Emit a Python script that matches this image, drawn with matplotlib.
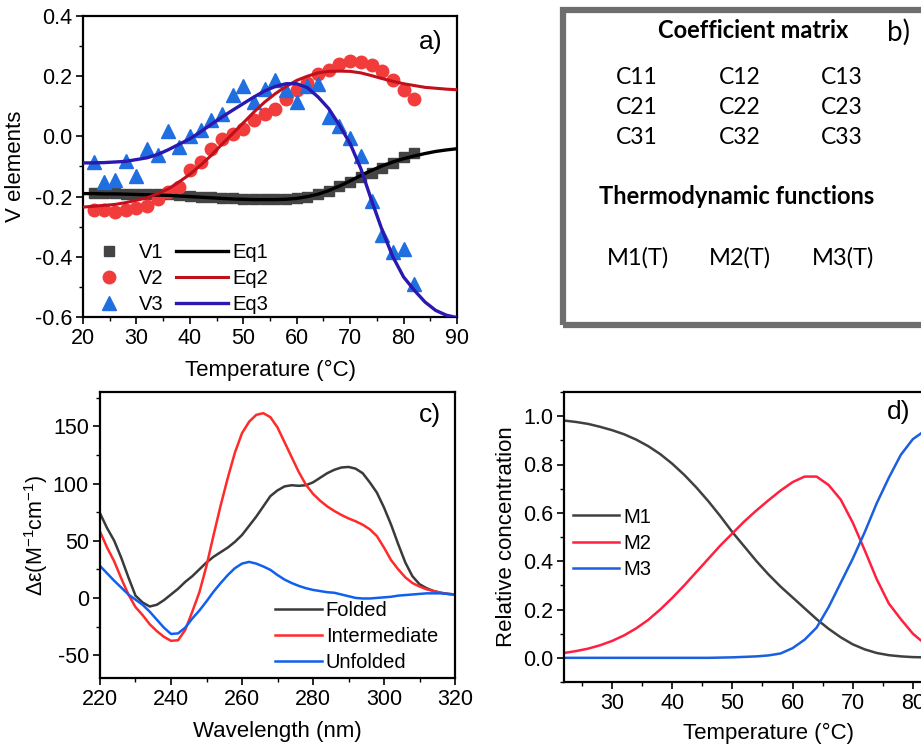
import numpy as np
import matplotlib
matplotlib.use('Agg')
import matplotlib.pyplot as plt
from matplotlib.patches import Rectangle
from matplotlib.ticker import MultipleLocator, FormatStrFormatter

plt.rcParams['font.family'] = ['Liberation Sans', 'DejaVu Sans']
plt.rcParams['axes.unicode_minus'] = False
plt.rcParams['mathtext.fontset'] = 'custom'
plt.rcParams['mathtext.rm'] = 'Liberation Sans'
plt.rcParams['mathtext.it'] = 'Liberation Sans:italic'

# ---- panel a: V elements vs temperature ----
temp_pts = list(range(22, 84, 2))
v1 = [-0.188, -0.188, -0.189, -0.19, -0.19, -0.191, -0.192, -0.193, -0.195, -0.197,
      -0.2, -0.202, -0.204, -0.206, -0.207, -0.208, -0.208, -0.208, -0.207, -0.205,
      -0.2, -0.193, -0.182, -0.166, -0.15, -0.135, -0.12, -0.105, -0.088, -0.068, -0.055]
v2 = [-0.244, -0.246, -0.251, -0.244, -0.237, -0.231, -0.209, -0.185, -0.168, -0.113,
      -0.085, -0.041, -0.008, 0.009, 0.025, 0.053, 0.075, 0.092, 0.125, 0.153,
      0.177, 0.206, 0.219, 0.241, 0.252, 0.247, 0.236, 0.217, 0.186, 0.155, 0.123]
v3 = [-0.085, -0.15, -0.146, -0.083, -0.13, -0.041, -0.063, 0.018, -0.035, 0.0,
      0.022, 0.053, 0.075, 0.136, 0.169, 0.114, 0.158, 0.186, 0.153, 0.114,
      0.169, 0.175, 0.064, 0.033, -0.004, -0.066, -0.213, -0.329, -0.384, -0.373, -0.49]

temp_fit = list(range(20, 92, 2))
eq1 = [-0.19, -0.19, -0.191, -0.191, -0.192, -0.193, -0.194, -0.195, -0.196, -0.198,
       -0.2, -0.202, -0.204, -0.206, -0.208, -0.209, -0.21, -0.21, -0.21, -0.209,
       -0.206, -0.2, -0.192, -0.18, -0.165, -0.148, -0.13, -0.113, -0.098, -0.085,
       -0.074, -0.065, -0.057, -0.05, -0.045, -0.041]
eq2 = [-0.235, -0.232, -0.229, -0.226, -0.22, -0.212, -0.204, -0.19, -0.174, -0.151,
       -0.126, -0.096, -0.063, -0.026, 0.009, 0.045, 0.081, 0.114, 0.142, 0.166,
       0.186, 0.2, 0.211, 0.216, 0.217, 0.216, 0.211, 0.202, 0.192, 0.183,
       0.175, 0.169, 0.163, 0.16, 0.157, 0.155]
eq3 = [-0.088, -0.088, -0.087, -0.085, -0.083, -0.077, -0.071, -0.06, -0.044, -0.026,
       -0.008, 0.015, 0.04, 0.064, 0.087, 0.109, 0.131, 0.151, 0.166, 0.175,
       0.175, 0.162, 0.131, 0.092, 0.037, -0.024, -0.107, -0.212, -0.312, -0.4,
       -0.467, -0.511, -0.55, -0.578, -0.594, -0.602]

# ---- panel c: CD spectra ----
wavelength = list(range(220, 322, 2))
folded = [74, 61, 50, 35, 18, 2, -4, -7.5, -6, -2,
          3, 8, 14, 19, 25, 31, 36, 40, 44, 49,
          55, 63, 71, 80, 89, 94, 97.5, 98.5, 98, 98.5,
          101, 105, 109, 112, 114, 114.5, 113, 109, 101, 92,
          79, 64, 47, 31, 19, 12, 8.5, 6, 4.5, 3.5, 3]
intermediate = [58, 44, 32, 17, 3, -8, -15, -23, -29, -34,
                -37.5, -37, -28, -12, 5, 28, 55, 81, 105, 127,
                144, 154, 160, 161.5, 158, 149, 136, 123, 110, 99,
                91, 85, 80, 76, 72.5, 69.5, 67, 64, 60, 54,
                44, 33, 25, 18, 13, 10, 7.5, 6, 4.5, 3.5, 3]
unfolded = [28, 21.5, 15, 9, 3, -1.5, -6, -12, -19, -26,
            -31.5, -31, -26, -18, -11, -3, 5.5, 13, 20, 26,
            30, 31.5, 30, 27.5, 24.5, 20, 16, 13, 10.5, 8.5,
            7, 6, 5, 4.5, 3, 1.5, 0, -0.5, -0.5, 0,
            0.5, 1, 2, 2.5, 3, 3.5, 4, 4, 4, 3.5, 3]

# ---- panel d: relative concentrations ----
temp_d = list(range(22, 92, 2))
m1 = [0.982, 0.976, 0.968, 0.956, 0.942, 0.925, 0.903, 0.876, 0.843, 0.803,
      0.757, 0.705, 0.648, 0.586, 0.52, 0.46, 0.4, 0.345, 0.295, 0.25,
      0.205, 0.16, 0.12, 0.085, 0.056, 0.035, 0.02, 0.011, 0.006, 0.003,
      0.002, 0.001, 0.001, 0.0, 0.0]
m2 = [0.02, 0.028, 0.038, 0.052, 0.07, 0.093, 0.122, 0.157, 0.2, 0.248,
      0.3, 0.355, 0.41, 0.465, 0.515, 0.565, 0.61, 0.652, 0.692, 0.727,
      0.75, 0.75, 0.715, 0.655, 0.56, 0.445, 0.325, 0.225, 0.16, 0.1,
      0.058, 0.035, 0.02, 0.012, 0.007]
m3 = [0.0, 0.0, 0.0, 0.0, 0.0, 0.0, 0.0, 0.0, 0.0, 0.0,
      0.0, 0.0, 0.0, 0.001, 0.002, 0.004, 0.006, 0.01, 0.018, 0.04,
      0.075, 0.125, 0.21, 0.31, 0.41, 0.52, 0.64, 0.745, 0.84, 0.905,
      0.94, 0.965, 0.98, 0.988, 0.993]

coef_labels = [['C11', 'C12', 'C13'], ['C21', 'C22', 'C23'], ['C31', 'C32', 'C33']]
func_labels = ['M1(T)', 'M2(T)', 'M3(T)']

W, H = 921, 747
fig = plt.figure(figsize=(W / 100, H / 100), dpi=100)

TICK_FS = 15.5
LABEL_FS = 16
LEG_FS = 14.5


def style(ax, xmin, ymin):
    ax.xaxis.set_minor_locator(MultipleLocator(xmin))
    ax.yaxis.set_minor_locator(MultipleLocator(ymin))
    ax.tick_params(which='major', direction='out', length=5, width=1.2,
                   labelsize=TICK_FS, top=False, right=False, pad=3)
    ax.tick_params(which='minor', direction='out', length=3, width=1.0,
                   top=False, right=False)
    for s in ax.spines.values():
        s.set_linewidth(1.6)


# panel a
ax_a = fig.add_axes([83 / W, 1 - 317 / H, 374 / W, 301 / H])
ax_a.plot(temp_fit, eq1, color='black', lw=2.4, label='Eq1', zorder=3)
ax_a.plot(temp_fit, eq2, color='#c0101c', lw=2.2, label='Eq2', zorder=3)
ax_a.plot(temp_fit, eq3, color='#2a18b0', lw=2.4, label='Eq3', zorder=3)
ax_a.plot(temp_pts, v1, 's', color='#444444', ms=7.5, label='V1', zorder=2)
ax_a.plot(temp_pts, v2, 'o', color='#f23c3c', ms=9, label='V2', zorder=2)
ax_a.plot(temp_pts, v3, '^', color='#1f6fe0', ms=9.5, label='V3', zorder=2)
ax_a.set_xlim(20, 90)
ax_a.set_ylim(-0.6, 0.4)
ax_a.xaxis.set_major_locator(MultipleLocator(10))
ax_a.yaxis.set_major_locator(MultipleLocator(0.2))
ax_a.yaxis.set_major_formatter(FormatStrFormatter('%.1f'))
style(ax_a, 5, 0.1)
ax_a.set_xlabel('Temperature (°C)', fontsize=LABEL_FS, labelpad=8)
ax_a.set_ylabel('V elements', fontsize=LABEL_FS, labelpad=6)
h, l = ax_a.get_legend_handles_labels()
order = [3, 4, 5, 0, 1, 2]
ax_a.legend([h[i] for i in order], [l[i] for i in order], ncol=2, loc='lower left',
            bbox_to_anchor=(0.0, 0.01), frameon=False, fontsize=LEG_FS,
            handlelength=2.6, handletextpad=0.2, columnspacing=0.6,
            labelspacing=0.35, borderpad=0.0, borderaxespad=0.0)
ax_a.text(0.93, 0.915, 'a)', transform=ax_a.transAxes, fontsize=19,
          ha='center', va='center')

# panel b
fig.patches.append(Rectangle((563 / W, 1 - 325 / H), 400 / W, 315 / H,
                             transform=fig.transFigure, fill=False,
                             edgecolor='#6e6e6e', lw=4.5))
bfont = ['Lato', 'DejaVu Sans']
fig.text(753 / W, 1 - 30 / H, 'Coefficient matrix', fontsize=17, fontweight='bold',
         family=bfont, ha='center', va='center')
fig.text(898 / W, 1 - 32 / H, 'b)', fontsize=20, family=bfont, ha='center', va='center')
col_x = [637, 740, 842]
row_y = [77, 108, 138]
for r, row in enumerate(coef_labels):
    for c, txt in enumerate(row):
        fig.text(col_x[c] / W, 1 - row_y[r] / H, txt, fontsize=16.5, family=bfont,
                 ha='center', va='center')
fig.text(737 / W, 1 - 197 / H, 'Thermodynamic functions', fontsize=17,
         fontweight='bold', family=bfont, ha='center', va='center')
for c, txt in enumerate(func_labels):
    fig.text([638, 740, 843][c] / W, 1 - 258 / H, txt, fontsize=17, family=bfont,
             ha='center', va='center')

# panel c
ax_c = fig.add_axes([100 / W, 1 - 678 / H, 355 / W, 286 / H])
ax_c.plot(wavelength, folded, color='#3a3a3a', lw=1.8, label='Folded')
ax_c.plot(wavelength, intermediate, color='#ff2a2a', lw=1.8, label='Intermediate')
ax_c.plot(wavelength, unfolded, color='#1060f0', lw=1.8, label='Unfolded')
ax_c.set_xlim(220, 320)
ax_c.set_ylim(-70, 180)
ax_c.xaxis.set_major_locator(MultipleLocator(20))
ax_c.yaxis.set_major_locator(MultipleLocator(50))
style(ax_c, 10, 25)
ax_c.set_xlabel('Wavelength (nm)', fontsize=LABEL_FS, labelpad=8)
ax_c.set_ylabel('Δε(M$^{-1}$cm$^{-1}$)', fontsize=15.5, labelpad=2)
ax_c.legend(loc='lower right', bbox_to_anchor=(1 - 17 / 355, 6 / 286), frameon=False,
            fontsize=LEG_FS, handlelength=2.3, handletextpad=0.2, labelspacing=0.35,
            borderpad=0.0, borderaxespad=0.0)
ax_c.text(0.93, 0.92, 'c)', transform=ax_c.transAxes, fontsize=19,
          ha='center', va='center')

# panel d
ax_d = fig.add_axes([564 / W, 1 - 682 / H, 409 / W, 290 / H])
ax_d.plot(temp_d, m1, color='#404040', lw=1.8, label='M1')
ax_d.plot(temp_d, m2, color='#ff2040', lw=1.8, label='M2')
ax_d.plot(temp_d, m3, color='#1a5fe0', lw=1.8, label='M3')
ax_d.set_xlim(22, 90)
ax_d.set_ylim(-0.1, 1.1)
ax_d.xaxis.set_major_locator(MultipleLocator(10))
ax_d.yaxis.set_major_locator(MultipleLocator(0.2))
ax_d.yaxis.set_major_formatter(FormatStrFormatter('%.1f'))
style(ax_d, 5, 0.1)
ax_d.set_xlabel('Temperature (°C)', fontsize=LABEL_FS, labelpad=6)
ax_d.set_ylabel('Relative concentration', fontsize=LABEL_FS, labelpad=4)
ax_d.legend(loc='center left', bbox_to_anchor=(9 / 409, 0.479), frameon=False,
            fontsize=LEG_FS, handlelength=2.3, handletextpad=0.2, labelspacing=0.35,
            borderpad=0.0, borderaxespad=0.0)
ax_d.text(887 / W, 1 - 412 / H, 'd)', transform=fig.transFigure, fontsize=19,
          ha='left', va='center')

fig.savefig('out.png', dpi=100)
